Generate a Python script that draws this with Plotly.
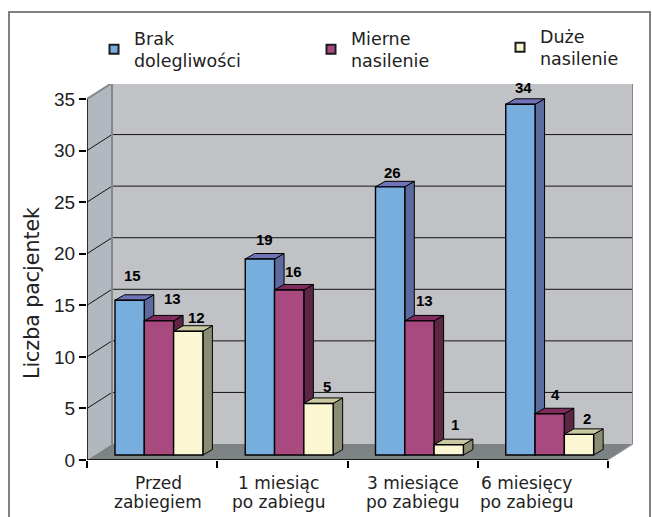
import plotly.graph_objects as go

categories = ["Przed<br>zabiegiem", "1 miesiąc<br>po zabiegu", "3 miesiące<br>po zabiegu", "6 miesięcy<br>po zabiegu"]
series_names = ["Brak<br>dolegliwości", "Mierne<br>nasilenie", "Duże<br>nasilenie"]
brak = [15, 19, 26, 34]
mierne = [13, 16, 13, 4]
duze = [12, 5, 1, 2]
y_ticks = [0, 5, 10, 15, 20, 25, 30, 35]

# Plot box and the oblique depth of the pseudo-3D scene
W, H = 652, 517
L, R, T, B = 87, 633, 84, 460
PX_X = 130.25          # pixels per category
PX_Y = 361 / 35        # pixels per patient
WALL_DX, WALL_DY = 25 / PX_X, 16 / PX_Y
BAR_DX, BAR_DY = 9.5 / PX_X, 5.5 / PX_Y
BAR_BASE = 5 / PX_Y
BAR_W = 29.3 / PX_X
BAR_LEAD = 28 / PX_X

FACE = ["#78aedd", "#a84a80", "#fbf7d2"]
SIDE = ["#5c6aa0", "#5e2645", "#8a8d74"]
TOP = ["#6f74b8", "#7f2c5d", "#c9c8a0"]
LABEL_SHIFT = [
    [(3, 25), (5, 20), (2, 14), (3, 17)],
    [(14, 22), (4, 18), (5, 20), (6, 19)],
    [(8, 14), (8, 17), (6, 20), (8, 16)],
]
CAT_SHIFT = [6, -4, 0, -16]
LEGEND_POS = [(94, 20), (311, 20), (500, 18)]

fig = go.Figure()
z = [0]


def poly(xs, ys, fill, line="black", width=1):
    z[0] += 1
    fig.add_trace(go.Scatter(x=xs, y=ys, mode="lines", fill="toself", fillcolor=fill,
                             line=dict(color=line, width=width), showlegend=False,
                             hoverinfo="skip", zorder=z[0]))


def seg(xs, ys, color, width=1):
    z[0] += 1
    fig.add_trace(go.Scatter(x=xs, y=ys, mode="lines", line=dict(color=color, width=width),
                             showlegend=False, hoverinfo="skip", zorder=z[0]))


n = len(categories)
top = y_ticks[-1]

# Walls and floor
poly([WALL_DX, n + WALL_DX, n + WALL_DX, WALL_DX], [WALL_DY, WALL_DY, top + WALL_DY, top + WALL_DY], "#c1c2c6", "#c1c2c6", 0)
poly([0, WALL_DX, WALL_DX, 0], [0, WALL_DY, top + WALL_DY, top], "#b1b8c0", "#b1b8c0", 0)
poly([0, n, n + WALL_DX, WALL_DX], [0, 0, WALL_DY, WALL_DY], "#7d8285", "#7d8285", 0)

# Gridlines bend from the side wall onto the back wall
for v in y_ticks[1:-1]:
    seg([0, WALL_DX, n + WALL_DX], [v, v + WALL_DY, v + WALL_DY], "#141414", 1)
seg([0, WALL_DX, n + WALL_DX, n + WALL_DX], [top, top + WALL_DY, top + WALL_DY, WALL_DY], "#85878c", 2)
seg([WALL_DX, WALL_DX], [WALL_DY, top + WALL_DY], "#85878c", 2)
seg([n, n + WALL_DX], [0, WALL_DY], "#9a9c9e", 1)

# Bars: side and top faces first, the front face over them
for s, values in enumerate([brak, mierne, duze]):
    centers = []
    sx, sy, tx, ty = [], [], [], []
    for g, v in enumerate(values):
        x0 = g + BAR_LEAD + s * BAR_W
        x1 = x0 + BAR_W
        t = BAR_BASE + v
        centers.append((x0 + x1) / 2)
        sx += [x1, x1 + BAR_DX, x1 + BAR_DX, x1, x1, None]
        sy += [BAR_BASE, BAR_BASE + BAR_DY, t + BAR_DY, t, BAR_BASE, None]
        tx += [x0, x1, x1 + BAR_DX, x0 + BAR_DX, x0, None]
        ty += [t, t, t + BAR_DY, t + BAR_DY, t, None]
    poly(sx, sy, SIDE[s])
    poly(tx, ty, TOP[s])
    z[0] += 1
    fig.add_trace(go.Bar(x=centers, y=values, base=BAR_BASE, width=BAR_W, showlegend=False,
                         marker=dict(color=FACE[s], line=dict(color="black", width=1.4)),
                         zorder=z[0]))
    # Legend key: a small square with a heavy outline
    fig.add_trace(go.Scatter(x=[None], y=[None], mode="markers", name=series_names[s],
                             marker=dict(symbol="square", size=9, color=FACE[s],
                                         line=dict(color="#1c1c1c", width=2)),
                             legend="legend" if s == 0 else f"legend{s + 1}"))
    for c, v, (dx, dy) in zip(centers, values, LABEL_SHIFT[s]):
        fig.add_annotation(x=c, y=BAR_BASE + v, text=f"<b>{v}</b>", showarrow=False,
                           xshift=dx, yshift=dy, yanchor="middle",
                           font=dict(family="Liberation Sans", size=15, color="black"))

# Axis lines stop at the front corners of the floor
seg([0, 0], [0, top], "black", 1.5)
seg([0, n], [0, 0], "black", 1.5)

for i, c in enumerate(categories):
    for j, part in enumerate(c.split("<br>")):
        fig.add_annotation(x=i + 0.5, y=0, text=part, showarrow=False, yanchor="middle",
                           xanchor="center", yshift=-23 - 18.5 * j, xshift=CAT_SHIFT[i],
                           font=dict(family="DejaVu Sans", size=17, color="#222"))

fig.add_annotation(x=(32 - L) / (R - L), y=(B - 293) / (B - T), xref="paper", yref="paper",
                   xanchor="center", yanchor="middle",
                   text="Liczba pacjentek", textangle=-90, showarrow=False,
                   font=dict(family="DejaVu Sans", size=20.5, color="#222"))

fig.add_shape(type="rect", xref="paper", yref="paper", layer="below",
              x0=(9 - L) / (R - L), x1=(650 - L) / (R - L),
              y0=(B - 530) / (B - T), y1=(B - 12) / (B - T),
              line=dict(color="#808080", width=2))

legends = {}
for i, (px, py) in enumerate(LEGEND_POS):
    legends["legend" if i == 0 else f"legend{i + 1}"] = dict(
        x=(px - L) / (R - L), y=(B - py) / (B - T), xanchor="left", yanchor="top",
        bgcolor="rgba(0,0,0,0)", borderwidth=0,
        font=dict(family="DejaVu Sans", size=17.5, color="#222"))

fig.update_layout(
    width=W, height=H, autosize=False, showlegend=True, barmode="overlay",
    margin=dict(l=L, r=W - R, t=T, b=H - B, pad=0),
    paper_bgcolor="white", plot_bgcolor="white",
    xaxis=dict(range=[0, (R - L) / PX_X], tickvals=list(range(n + 1)), ticks="outside", ticklen=7,
               tickcolor="black", tickwidth=1.5, showticklabels=False, showgrid=False,
               zeroline=False, showline=False, fixedrange=True),
    yaxis=dict(range=[0, (B - T) / PX_Y], tickvals=y_ticks, ticks="outside", ticklen=7,
               tickcolor="black", tickwidth=1.5, showgrid=False, zeroline=False, showline=False,
               tickfont=dict(family="Liberation Sans", size=19, color="#222"), fixedrange=True),
    **legends,
)

fig.write_html("out.html", config={"displayModeBar": False})
